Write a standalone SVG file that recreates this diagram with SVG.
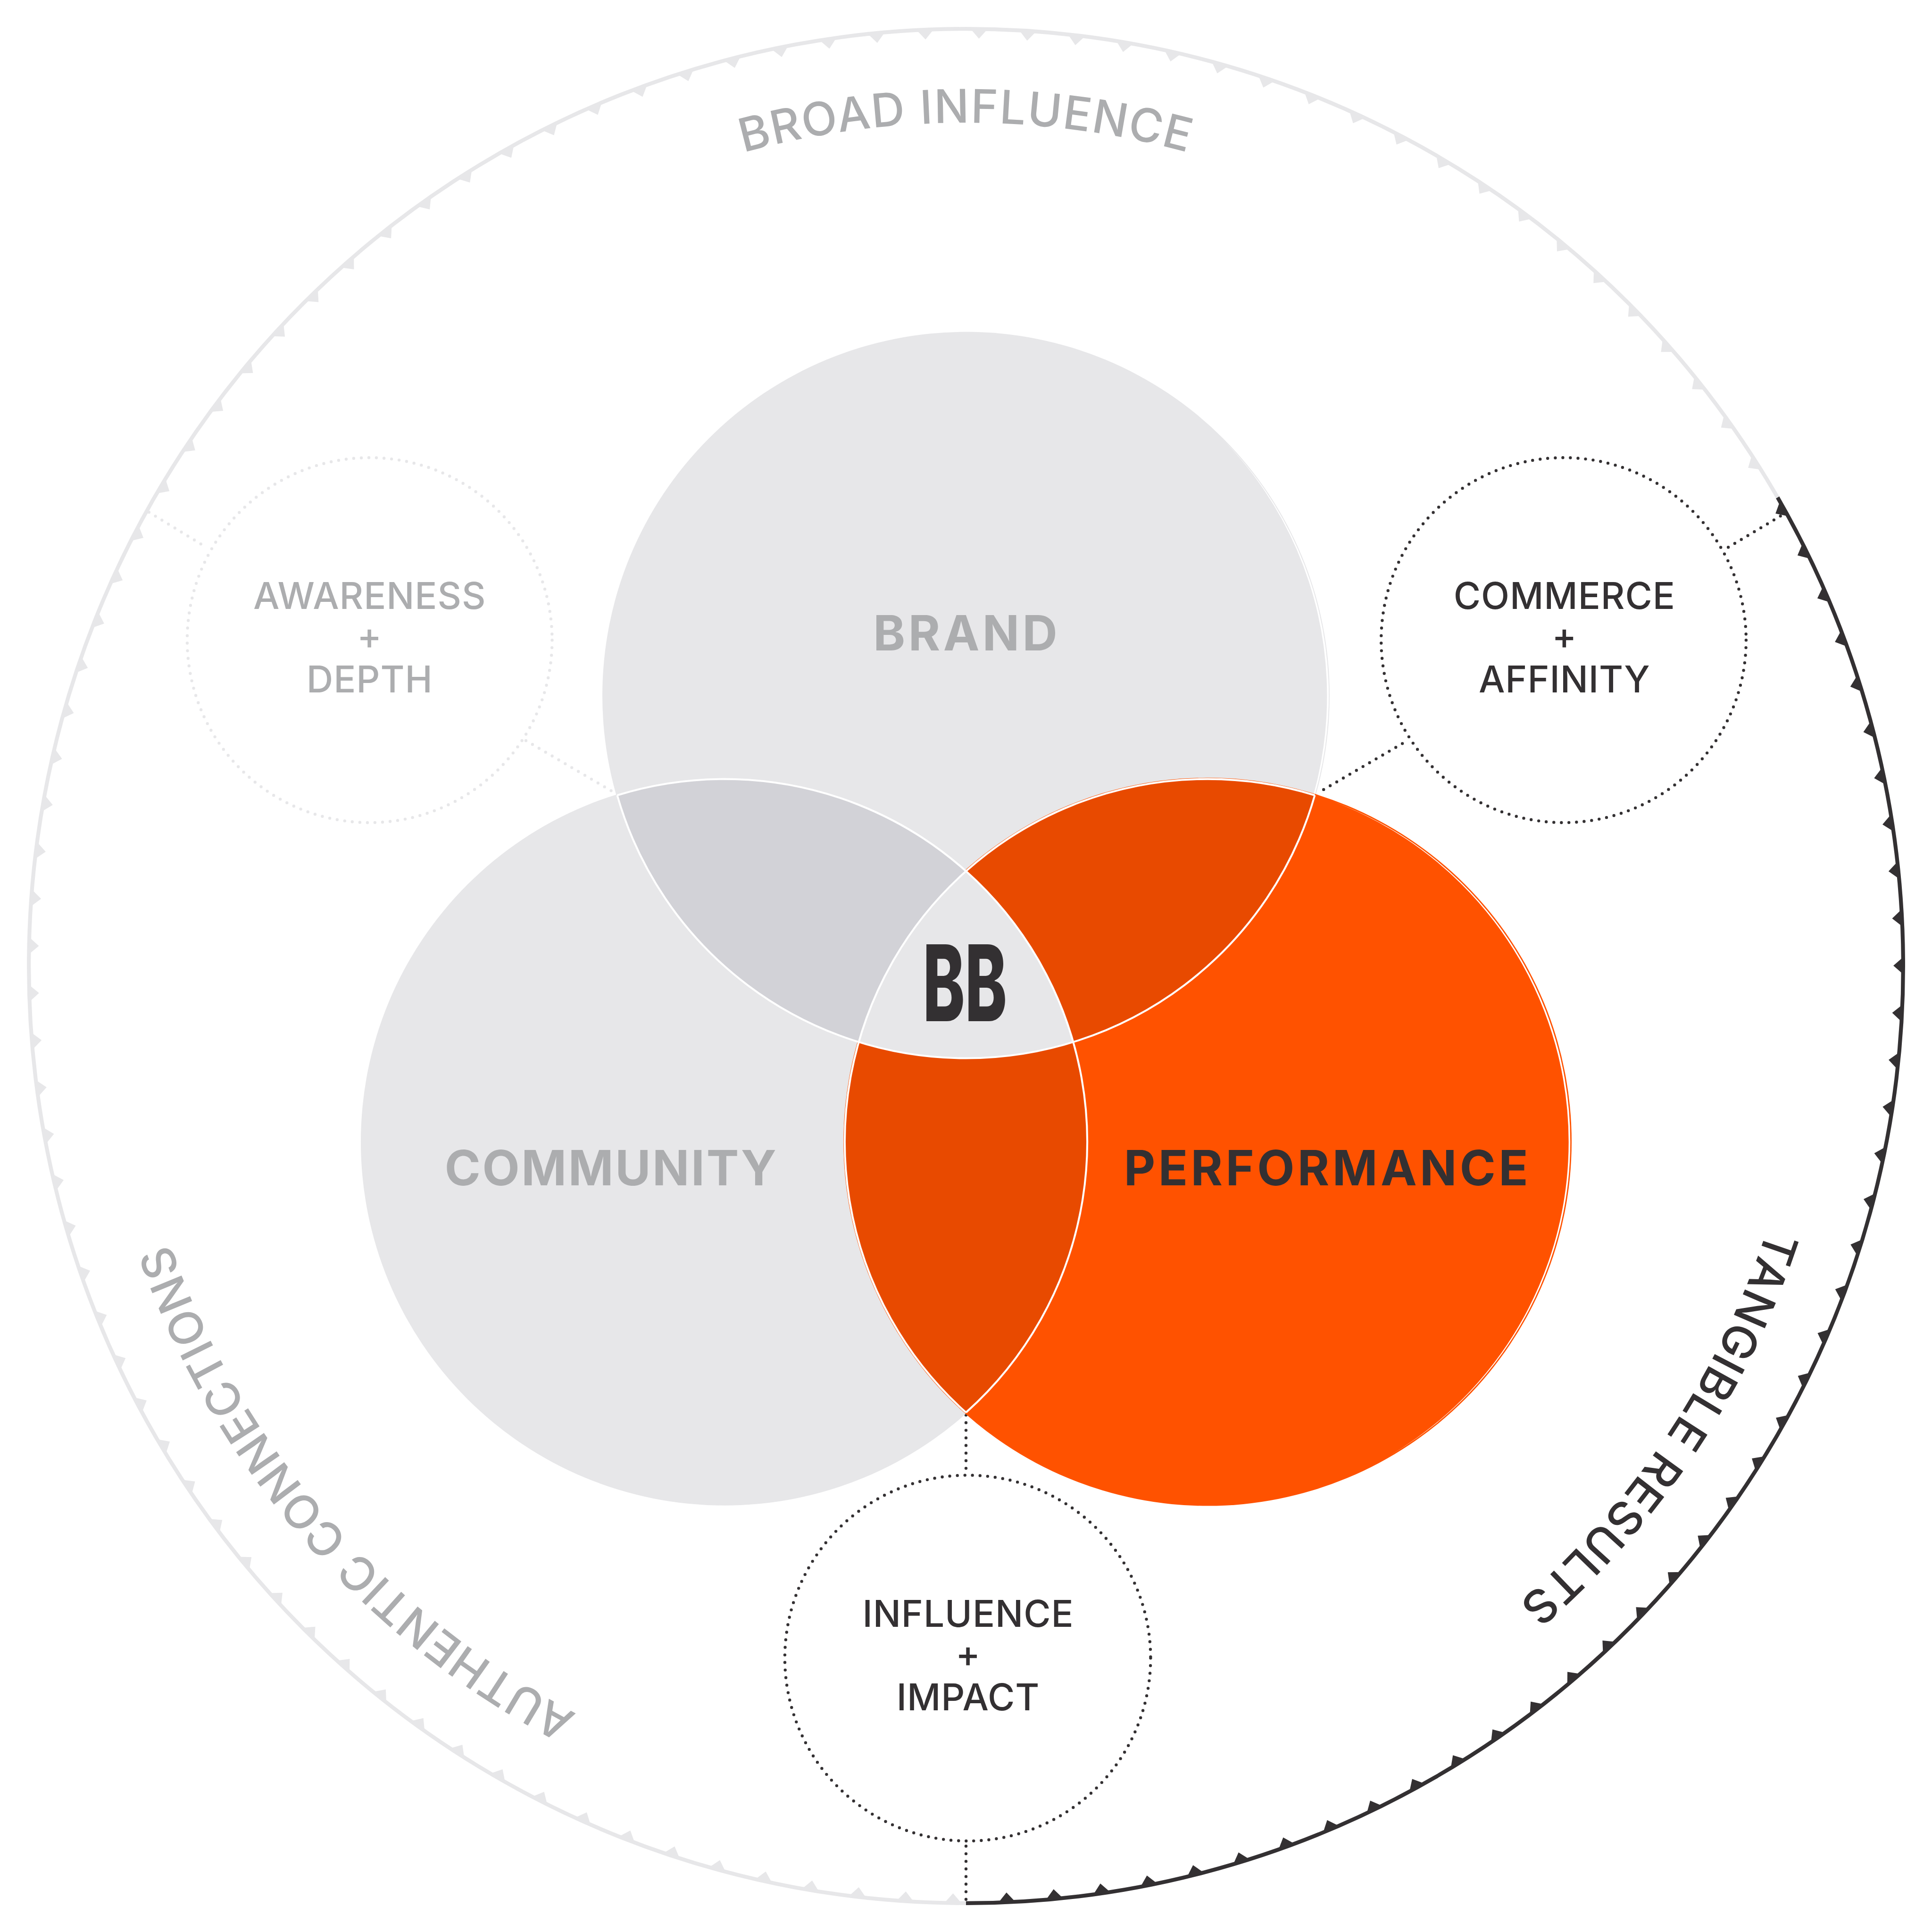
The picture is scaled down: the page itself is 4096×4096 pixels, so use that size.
<svg xmlns="http://www.w3.org/2000/svg" width="4096" height="4096" viewBox="0 0 4096 4096">
<style>
text{font-family:Inter,"Liberation Sans",sans-serif;text-anchor:middle}
.lab{font-size:86px;font-weight:500;letter-spacing:1px}
.main{font-size:113px;font-weight:700}
.arc{font-size:108px;font-weight:500}
.d{fill:#333032}.g{fill:#acadaf}
.ring{fill:none;stroke:#fff;stroke-width:4.5}
.dot{fill:none;stroke-width:7;stroke-linecap:round;stroke-dasharray:0 17.7}
.dd{stroke:#333032}.dg{stroke:#e7e7e9}
</style>
<defs>
<polygon id="t" points="2230,4433 2270,4433 2250,4410"/>
<g id="t120">
<use href="#t" transform="rotate(0.8 2250 2250)"/><use href="#t" transform="rotate(3.72 2250 2250)"/><use href="#t" transform="rotate(6.64 2250 2250)"/><use href="#t" transform="rotate(9.55 2250 2250)"/><use href="#t" transform="rotate(12.47 2250 2250)"/><use href="#t" transform="rotate(15.39 2250 2250)"/><use href="#t" transform="rotate(18.31 2250 2250)"/><use href="#t" transform="rotate(21.22 2250 2250)"/><use href="#t" transform="rotate(24.14 2250 2250)"/><use href="#t" transform="rotate(27.06 2250 2250)"/><use href="#t" transform="rotate(29.98 2250 2250)"/><use href="#t" transform="rotate(32.89 2250 2250)"/><use href="#t" transform="rotate(35.81 2250 2250)"/><use href="#t" transform="rotate(38.73 2250 2250)"/><use href="#t" transform="rotate(41.65 2250 2250)"/><use href="#t" transform="rotate(44.56 2250 2250)"/><use href="#t" transform="rotate(47.48 2250 2250)"/><use href="#t" transform="rotate(50.4 2250 2250)"/><use href="#t" transform="rotate(53.32 2250 2250)"/><use href="#t" transform="rotate(56.23 2250 2250)"/><use href="#t" transform="rotate(59.15 2250 2250)"/><use href="#t" transform="rotate(62.07 2250 2250)"/><use href="#t" transform="rotate(64.99 2250 2250)"/><use href="#t" transform="rotate(67.9 2250 2250)"/><use href="#t" transform="rotate(70.82 2250 2250)"/><use href="#t" transform="rotate(73.74 2250 2250)"/><use href="#t" transform="rotate(76.66 2250 2250)"/><use href="#t" transform="rotate(79.57 2250 2250)"/><use href="#t" transform="rotate(82.49 2250 2250)"/><use href="#t" transform="rotate(85.41 2250 2250)"/><use href="#t" transform="rotate(88.33 2250 2250)"/><use href="#t" transform="rotate(91.24 2250 2250)"/><use href="#t" transform="rotate(94.16 2250 2250)"/><use href="#t" transform="rotate(97.08 2250 2250)"/><use href="#t" transform="rotate(100 2250 2250)"/><use href="#t" transform="rotate(102.91 2250 2250)"/><use href="#t" transform="rotate(105.83 2250 2250)"/><use href="#t" transform="rotate(108.75 2250 2250)"/><use href="#t" transform="rotate(111.67 2250 2250)"/><use href="#t" transform="rotate(114.58 2250 2250)"/><use href="#t" transform="rotate(117.5 2250 2250)"/>
</g>
<g id="t60">
<use href="#t" transform="rotate(120.8 2250 2250)"/><use href="#t" transform="rotate(123.78 2250 2250)"/><use href="#t" transform="rotate(126.77 2250 2250)"/><use href="#t" transform="rotate(129.75 2250 2250)"/><use href="#t" transform="rotate(132.74 2250 2250)"/><use href="#t" transform="rotate(135.72 2250 2250)"/><use href="#t" transform="rotate(138.7 2250 2250)"/><use href="#t" transform="rotate(141.69 2250 2250)"/><use href="#t" transform="rotate(144.67 2250 2250)"/><use href="#t" transform="rotate(147.66 2250 2250)"/><use href="#t" transform="rotate(150.64 2250 2250)"/><use href="#t" transform="rotate(153.62 2250 2250)"/><use href="#t" transform="rotate(156.61 2250 2250)"/><use href="#t" transform="rotate(159.59 2250 2250)"/><use href="#t" transform="rotate(162.58 2250 2250)"/><use href="#t" transform="rotate(165.56 2250 2250)"/><use href="#t" transform="rotate(168.54 2250 2250)"/><use href="#t" transform="rotate(171.53 2250 2250)"/><use href="#t" transform="rotate(174.51 2250 2250)"/><use href="#t" transform="rotate(177.5 2250 2250)"/>
</g>
<path id="pTop" d="M861.2 861.2A1964 1964 0 0 1 3638.8 861.2"/>
<path id="pRight" d="M4205 2062A1964 1964 0 0 1 2775 4143"/>
<path id="pLeft" d="M1922 4186A1964 1964 0 0 1 286 2264"/>
</defs>
<rect width="4096" height="4096" fill="#fff"/>
<g transform="scale(0.910222)">
<g id="outer-ring">
<circle cx="2250" cy="2250" r="2182.8" fill="none" stroke="#e7e7e9" stroke-width="9"/>
<g fill="#e7e7e9"><use href="#t120"/><use href="#t60"/><use href="#t60" transform="rotate(60 2250 2250)"/></g>
<path d="M2250 4432.8A2182.8 2182.8 0 0 0 4140.4 1158.6" fill="none" stroke="#333032" stroke-width="9"/>
<use href="#t120" fill="#333032" transform="rotate(240 2250 2250)"/>
<text class="arc g" letter-spacing="2.6"><textPath href="#pTop" startOffset="50%">BROAD INFLUENCE</textPath></text>
<text class="arc g" letter-spacing="1" transform="rotate(-0.45 2250 2250)"><textPath href="#pLeft" startOffset="50%">AUTHENTIC CONNECTIONS</textPath></text>
<text class="arc d" letter-spacing="1.9" transform="rotate(-0.85 2250 2250)"><textPath href="#pRight" startOffset="50%">TANGIBLE RESULTS</textPath></text>
</g>
<g id="connectors">
<path class="dot dg" d="M347 1193L482 1275.7"/>
<path class="dot dg" d="M1225 1725L1429 1845"/>
<path class="dot dd" d="M4147 1202L4025 1275"/>
<path class="dot dd" d="M3083 1839L3278 1725"/>
<path class="dot dd" d="M2250 3296L2250 3432"/>
<path class="dot dd" d="M2250 4300L2250 4424"/>
</g>
<g id="brand"><circle cx="2250" cy="1620" r="847" fill="#e7e7e9"/>
<path fill="#fff" d="M2897.3 2163.2A845 845 0 0 0 2847.5 1022.5A856.8 856.8 0 0 1 2897.3 2163.2Z"/></g>
<g id="community"><circle cx="1687.4" cy="2659.5" r="847" fill="#e7e7e9"/></g>
<g id="performance"><circle cx="2812.6" cy="2659.5" r="848" fill="#ff5200"/>
<path fill="#fff" d="M3101.6 1865.5A845 845 0 0 1 3235.1 3391.3A847.9 847.9 0 0 0 3101.6 1865.5Z"/></g>
<g id="overlaps">
<path fill="#d2d2d7" d="M1437.6 1852.3A845 845 0 0 1 2250 2029A845 845 0 0 0 2000.2 2427.2A845 845 0 0 1 1437.6 1852.3Z"/>
<path fill="#e84a00" d="M3062.4 1852.3A845 845 0 0 0 2250 2029A845 845 0 0 1 2499.8 2427.2A845 845 0 0 0 3062.4 1852.3Z"/>
<path fill="#e84a00" d="M2000.2 2427.2A845 845 0 0 0 2250 3290A845 845 0 0 0 2499.8 2427.2A845 845 0 0 1 2000.2 2427.2Z"/>
<path fill="#e7e7e9" d="M2250 2029A845 845 0 0 1 2499.8 2427.2A845 845 0 0 1 2000.2 2427.2A845 845 0 0 1 2250 2029Z"/>
<path class="ring" d="M1437.6 1852.3A845 845 0 0 0 3062.4 1852.3"/>
<path class="ring" d="M1437.6 1852.3A845 845 0 0 1 2250 3290"/>
<path class="ring" d="M3062.4 1852.3A845 845 0 0 0 2250 3290"/>
</g>
<g id="labels">
<text class="main g" x="2252" y="1515" letter-spacing="7">BRAND</text>
<text class="main g" x="1424" y="2761" letter-spacing="4">COMMUNITY</text>
<text class="main d" x="3092" y="2761" letter-spacing="7">PERFORMANCE</text>
</g>
<g id="logo"><text class="d" transform="translate(2247.5 2379) scale(0.6 1)" font-size="246" font-weight="800">BB</text></g>
<g id="awareness">
<circle class="dot dg" cx="861" cy="1491" r="425"/>
<text class="lab g" x="861" y="1418" letter-spacing="2">AWARENESS</text><text class="lab g" x="861" y="1512">+</text><text class="lab g" x="861" y="1613" letter-spacing="0">DEPTH</text>
</g>
<g id="commerce">
<circle class="dot dd" cx="3642" cy="1491" r="425"/>
<text class="lab d" x="3644" y="1418">COMMERCE</text><text class="lab d" x="3644" y="1512">+</text><text class="lab d" x="3644" y="1613">AFFINITY</text>
</g>
<g id="influence">
<circle class="dot dd" cx="2254" cy="3862" r="426"/>
<text class="lab d" x="2255" y="3789" letter-spacing="1.6">INFLUENCE</text><text class="lab d" x="2255" y="3883">+</text><text class="lab d" x="2255" y="3984" letter-spacing="0">IMPACT</text>
</g>
</g>
</svg>
